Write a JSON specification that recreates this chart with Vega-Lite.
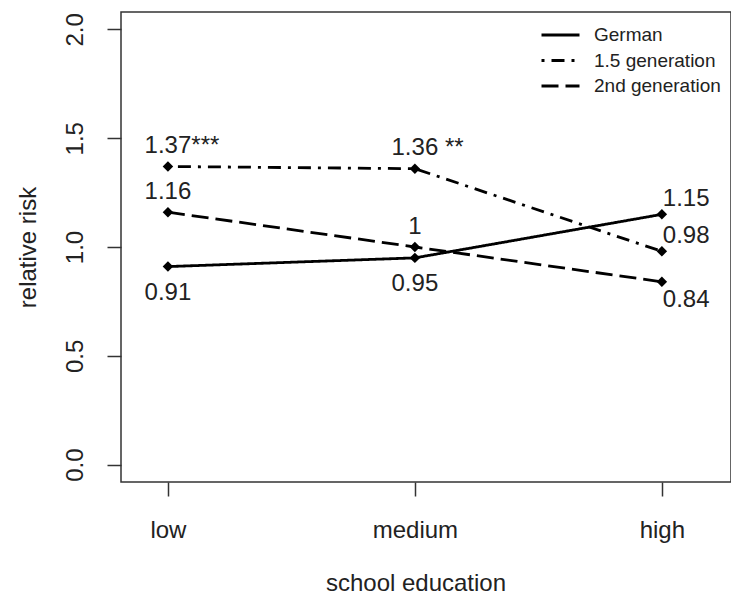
{
  "$schema": "https://vega.github.io/schema/vega-lite/v6.json",
  "width": 610,
  "height": 470,
  "autosize": {"type": "none"},
  "padding": {"left": 121, "top": 12, "right": 0, "bottom": 118},
  "background": "white",
  "config": {
    "font": "Liberation Sans",
    "view": {"stroke": "#333", "strokeWidth": 1.5},
    "axis": {
      "domain": false,
      "grid": false,
      "tickColor": "#333",
      "tickWidth": 1.5,
      "tickSize": 14,
      "labelFont": "Liberation Sans",
      "labelFontSize": 24,
      "labelColor": "#222",
      "labelFlush": false,
      "labelOverlap": false,
      "titleFont": "Liberation Sans",
      "titleFontSize": 24,
      "titleFontWeight": "normal",
      "titleColor": "#222"
    },
    "text": {"font": "Liberation Sans", "fontSize": 24, "color": "#222"}
  },
  "data": {
    "values": [
      {"edu": 1, "group": "German", "rr": 0.91, "sig": ""},
      {"edu": 2, "group": "German", "rr": 0.95, "sig": ""},
      {"edu": 3, "group": "German", "rr": 1.15, "sig": ""},
      {"edu": 1, "group": "1.5 generation", "rr": 1.37, "sig": "***"},
      {"edu": 2, "group": "1.5 generation", "rr": 1.36, "sig": "**"},
      {"edu": 3, "group": "1.5 generation", "rr": 0.98, "sig": ""},
      {"edu": 1, "group": "2nd generation", "rr": 1.16, "sig": ""},
      {"edu": 2, "group": "2nd generation", "rr": 1.00, "sig": ""},
      {"edu": 3, "group": "2nd generation", "rr": 0.84, "sig": ""}
    ]
  },
  "encoding": {
    "x": {
      "field": "edu",
      "type": "quantitative",
      "scale": {"domain": [0.81, 3.28], "nice": false, "zero": false},
      "axis": {
        "values": [1, 2, 3],
        "labelExpr": "datum.value == 1 ? 'low' : datum.value == 2 ? 'medium' : 'high'",
        "labelBaseline": "alphabetic",
        "labelPadding": 41,
        "title": "school education",
        "titleBaseline": "alphabetic",
        "titleAlign": "center",
        "titleX": 294.5,
        "titleY": 108
      }
    },
    "y": {
      "field": "rr",
      "type": "quantitative",
      "scale": {"domain": [-0.08, 2.08], "nice": false, "zero": false},
      "axis": {
        "values": [0, 0.5, 1, 1.5, 2],
        "format": ".1f",
        "labelAngle": 270,
        "labelAlign": "center",
        "labelBaseline": "alphabetic",
        "labelPadding": 25,
        "title": "relative risk",
        "titleAngle": 270,
        "titleAlign": "center",
        "titleBaseline": "alphabetic",
        "titleX": -86,
        "titleY": 235
      }
    }
  },
  "layer": [
    {
      "mark": {"type": "line", "color": "black", "strokeWidth": 2.8, "strokeCap": "butt"},
      "encoding": {
        "strokeDash": {
          "field": "group",
          "type": "nominal",
          "scale": {
            "domain": ["German", "1.5 generation", "2nd generation"],
            "range": [[1, 0], [3, 7, 13, 7], [17, 7]]
          },
          "legend": {
            "orient": "none",
            "legendX": 419,
            "legendY": 13.5,
            "title": null,
            "symbolType": "stroke",
            "symbolSize": 1444,
            "symbolStrokeWidth": 2.8,
            "symbolStrokeColor": "black",
            "labelFont": "Liberation Sans",
            "labelFontSize": 19,
            "labelColor": "#222",
            "labelOffset": 13,
            "clipHeight": 19,
            "rowPadding": 5.5,
            "padding": 0
          }
        }
      }
    },
    {
      "mark": {"type": "point", "shape": "diamond", "filled": true, "color": "black", "size": 110, "opacity": 1}
    },
    {
      "transform": [{"filter": "datum.edu < 3 && datum.group != 'German'"}],
      "mark": {"type": "text", "align": "center", "baseline": "alphabetic", "dy": -13.4},
      "encoding": {"text": {"field": "rr", "type": "quantitative", "format": ".2~f"}}
    },
    {
      "transform": [{"filter": "datum.edu < 3 && datum.group == 'German'"}],
      "mark": {"type": "text", "align": "center", "baseline": "alphabetic", "dy": 33},
      "encoding": {"text": {"field": "rr", "type": "quantitative", "format": ".2~f"}}
    },
    {
      "transform": [{"filter": "datum.edu == 3 && datum.group != '2nd generation'"}],
      "mark": {"type": "text", "align": "left", "baseline": "alphabetic", "dx": 1, "dy": -8.4},
      "encoding": {"text": {"field": "rr", "type": "quantitative", "format": ".2~f"}}
    },
    {
      "transform": [{"filter": "datum.edu == 3 && datum.group == '2nd generation'"}],
      "mark": {"type": "text", "align": "left", "baseline": "alphabetic", "dx": 1, "dy": 25},
      "encoding": {"text": {"field": "rr", "type": "quantitative", "format": ".2~f"}}
    },
    {
      "transform": [{"filter": "datum.edu == 1 && datum.sig != ''"}],
      "mark": {"type": "text", "align": "left", "baseline": "alphabetic", "dx": 23.4, "dy": -13.4},
      "encoding": {"text": {"field": "sig", "type": "nominal"}}
    },
    {
      "transform": [{"filter": "datum.edu == 2 && datum.sig != ''"}],
      "mark": {"type": "text", "align": "left", "baseline": "alphabetic", "dx": 30, "dy": -13.4},
      "encoding": {"text": {"field": "sig", "type": "nominal"}}
    }
  ]
}
